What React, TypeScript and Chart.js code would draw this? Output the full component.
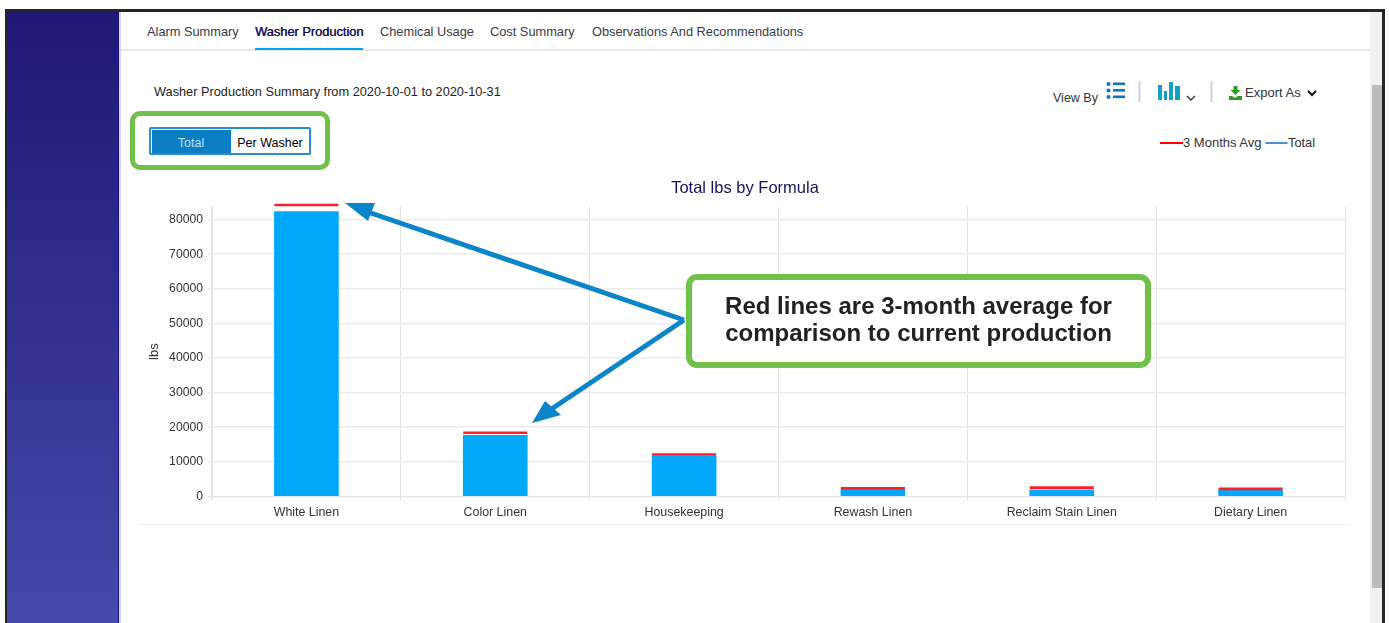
import React, { useEffect, useRef } from "react";
import { Chart, registerables } from "chart.js";

Chart.register(...registerables);

const categories = ["White Linen", "Color Linen", "Housekeeping", "Rewash Linen", "Reclaim Stain Linen", "Dietary Linen"];
const totalValues = [82300, 17700, 11700, 2000, 1900, 1750];
const avgValues = [84200, 18400, 12150, 2350, 2550, 2200];
const yTicks = [0, 10000, 20000, 30000, 40000, 50000, 60000, 70000, 80000];
const tabs = ["Alarm Summary", "Washer Production", "Chemical Usage", "Cost Summary", "Observations And Recommendations"];
const tabLefts = [147, 255, 380, 490, 592];
const FONT = '"Liberation Sans", Arial, sans-serif';

function Txt(p: { x: number; y: number; size?: number; color?: string; weight?: number | string; children: any; center?: boolean; w?: number; shadow?: string }) {
  return (
    <div
      style={{
        position: "absolute",
        left: p.x,
        top: p.y - 10,
        height: 20,
        lineHeight: "20px",
        fontSize: p.size ?? 13,
        color: p.color ?? "#333",
        fontWeight: p.weight ?? 400,
        whiteSpace: "nowrap",
        width: p.w,
        textAlign: p.center ? "center" : "left",
        textShadow: p.shadow,
      }}
    >
      {p.children}
    </div>
  );
}

function Box(p: { x: number; y: number; w: number; h: number; style?: React.CSSProperties }) {
  return <div style={{ position: "absolute", left: p.x, top: p.y, width: p.w, height: p.h, boxSizing: "border-box", ...p.style }} />;
}

export default function App() {
  const ref = useRef<HTMLCanvasElement>(null);
  useEffect(() => {
    const chart = new Chart(ref.current!, {
      type: "bar",
      data: {
        labels: categories,
        datasets: [
          {
            type: "line" as any,
            label: "3 Months Avg",
            data: avgValues,
            showLine: false,
            pointStyle: "line",
            pointRadius: 32,
            pointBorderWidth: 2.6,
            pointBorderColor: "#f9202c",
            borderColor: "#f9202c",
            clip: false as any,
            order: 0,
          },
          {
            label: "Total",
            data: totalValues,
            backgroundColor: "#02a9fb",
            barThickness: 64,
            order: 1,
          },
        ],
      },
      options: {
        animation: false,
        responsive: false,
        layout: { autoPadding: false, padding: { right: 5, left: 5, top: 0, bottom: 0 } },
        plugins: {
          legend: { display: false },
          tooltip: { enabled: false },
          title: {
            display: true,
            text: "Total lbs by Formula",
            color: "#14125e",
            font: { family: FONT, size: 16.5, weight: "normal" as any },
            padding: { top: 9, bottom: 8 },
          },
        },
        scales: {
          x: {
            grid: { color: "#e4e4e6", lineWidth: 1, tickLength: 4 },
            border: { color: "#e4e4e6" },
            ticks: { color: "#333", font: { family: FONT, size: 12.4 }, padding: 4.5, maxRotation: 0 },
            afterFit: (s: any) => { s.height = 33.5; s.paddingLeft = 0; s.paddingRight = 0; },
          },
          y: {
            min: 0,
            max: 83700,
            afterBuildTicks: (s: any) => { s.ticks = yTicks.map((value) => ({ value })); },
            grid: { color: "#ececee", lineWidth: 1.6, tickLength: 4 },
            border: { color: "#e4e4e6" },
            ticks: { color: "#333", font: { family: FONT, size: 12.2 }, padding: 5, callback: (v: any) => String(v) },
            title: { display: true, text: "lbs", color: "#333", font: { family: FONT, size: 13 }, padding: { top: 2, bottom: 0 } },
            afterFit: (s: any) => { s.width = 67; },
          },
        },
      },
    } as any);
    return () => chart.destroy();
  }, []);

  return (
    <div style={{ position: "absolute", left: 0, top: 0, width: 1389, height: 623, overflow: "hidden", background: "#fff", fontFamily: FONT }}>
      {/* frame */}
      <Box x={5} y={9} w={1380} h={3} style={{ background: "#262626" }} />
      <Box x={5} y={9} w={2} h={614} style={{ background: "#262626" }} />
      <Box x={1382} y={9} w={3} h={614} style={{ background: "#262626" }} />
      <Box x={7} y={12} w={111} h={611} style={{ background: "linear-gradient(#1f1775, #4549a9)" }} />
      <Box x={118} y={12} w={1} h={611} style={{ background: "#1a1480" }} />
      <Box x={119} y={12} w={2} h={611} style={{ background: "#d6d6ea" }} />
      {/* scrollbar */}
      <Box x={1370} y={12} w={12} h={611} style={{ background: "#f1f1f1" }} />
      <Box x={1372} y={85} w={10} h={503} style={{ background: "#bdbdbd" }} />
      {/* tabs */}
      <Box x={121} y={49} w={1249} h={2} style={{ background: "#e6e6f0" }} />
      <Box x={255} y={48} w={108} h={2} style={{ background: "#05a5ee" }} />
      {tabs.map((t, i) => (
        <Txt key={t} x={tabLefts[i]} y={31.5} size={12.8} color={i === 1 ? "#17155f" : "#3a3a44"} shadow={i === 1 ? "0.4px 0 0 #17155f" : undefined}>
          {t}
        </Txt>
      ))}
      <Txt x={154} y={91.5} size={12.75} color="#222">Washer Production Summary from 2020-10-01 to 2020-10-31</Txt>
      {/* toggle */}
      <Box x={130} y={111} w={200} h={59} style={{ border: "5px solid #70c04a", borderRadius: 10 }} />
      <Box x={149} y={127} w={162} h={28} style={{ border: "2px solid #2b8cd0", borderRadius: 2, background: "#fff" }} />
      <Box x={152} y={130} w={79} h={23} style={{ background: "#0b7dc3" }} />
      <Txt x={151} y={142.5} w={80} center size={12.5} color="#bfe0f5">Total</Txt>
      <Txt x={231} y={142.5} w={78} center size={12.5} color="#000">Per Washer</Txt>
      {/* toolbar */}
      <Txt x={1053} y={98} size={12.5} color="#333">View By</Txt>
      <svg style={{ position: "absolute", left: 0, top: 0 }} width={1389} height={623}>
        <g fill="#0b72c4">
          <circle cx={1108.5} cy={84} r={2} /><circle cx={1108.5} cy={90.5} r={2} /><circle cx={1108.5} cy={97} r={2} />
          <rect x={1113} y={82.5} width={12} height={2.6} /><rect x={1113} y={89} width={12} height={2.6} /><rect x={1113} y={95.5} width={12} height={2.6} />
        </g>
        <rect x={1138.5} y={81} width={2} height={21} fill="#cdd0e6" />
        <g fill="#10a0c8">
          <rect x={1158} y={85} width={4} height={15} /><rect x={1164} y={91} width={3} height={9} /><rect x={1169} y={82} width={4} height={18} /><rect x={1175} y={86} width={5} height={14} />
        </g>
        <polyline points="1187,96 1191,100 1195,96" fill="none" stroke="#333" strokeWidth={1.4} />
        <rect x={1210.5} y={81} width={2} height={21} fill="#cdd0e6" />
        <g fill="#2c9e1f">
          <path d="M1233.5 86h4v4h3l-5 5-5-5h3z" />
          <path d="M1229 96h3l3 2 3-2h4v4h-13z" />
        </g>
        <polyline points="1308,91 1312,95 1316,91" fill="none" stroke="#111" strokeWidth={2} />
        {/* legend swatches */}
        <rect x={1160} y={142} width={23} height={2} fill="#f00" />
        <rect x={1265.5} y={142} width={22} height={2} fill="#4a90d9" />
      </svg>
      <Txt x={1245} y={93} size={13} color="#333">Export As</Txt>
      <Txt x={1183} y={142.5} size={13} color="#333">3 Months Avg</Txt>
      <Txt x={1288} y={142.5} size={12.8} color="#333">Total</Txt>
      {/* card bottom line */}
      <Box x={140} y={524} w={1211} h={1} style={{ background: "#f1f1f3" }} />
      <canvas ref={ref} width={1210} height={360} style={{ position: "absolute", left: 140, top: 170, width: 1210, height: 360, display: "block" }} />
      {/* annotation */}
      <svg style={{ position: "absolute", left: 0, top: 0 }} width={1389} height={623}>
        <g stroke="#0a85c9" strokeWidth={5} fill="none">
          <line x1={684} y1={320} x2={365} y2={211} />
          <line x1={684} y1={320} x2={550} y2={410} />
        </g>
        <polygon points="345,203 375,203 368,221" fill="#0a85c9" />
        <polygon points="532,423 545,401 561,415" fill="#0a85c9" />
      </svg>
      <Box x={686} y={274} w={465} h={94} style={{ border: "6px solid #70c04a", borderRadius: 11, background: "#fff" }} />
      <Txt x={686} y={306} w={465} center size={24} weight={700} color="#222">Red lines are 3-month average for</Txt>
      <Txt x={686} y={333} w={465} center size={24} weight={700} color="#222">comparison to current production</Txt>
    </div>
  );
}
